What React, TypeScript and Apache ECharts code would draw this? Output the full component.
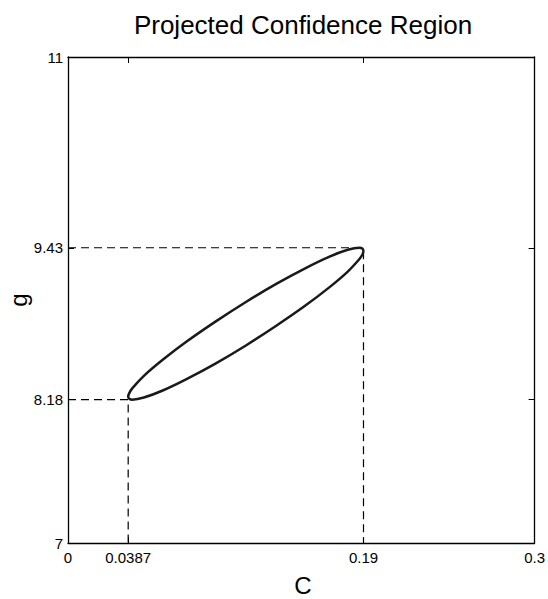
import React, { useEffect, useRef } from "react";
import * as echarts from "echarts";

// Ellipse outline (c, g pairs)
const ellipseC = [
  0.19, 0.1894, 0.1874, 0.1799, 0.1678, 0.1522, 0.1339, 0.1144, 0.0948, 0.0765,
  0.0609, 0.0488, 0.0413, 0.0394, 0.0387, 0.0394, 0.0413, 0.0488, 0.0609, 0.0765,
  0.0948, 0.1144, 0.1339, 0.1522, 0.1678, 0.1799, 0.1874, 0.1894, 0.19,
];
const ellipseG = [
  9.404, 9.376, 9.337, 9.234, 9.102, 8.95, 8.788, 8.626, 8.477, 8.351,
  8.255, 8.197, 8.18, 8.188, 8.206, 8.234, 8.273, 8.376, 8.508, 8.66,
  8.822, 8.984, 9.133, 9.259, 9.355, 9.413, 9.43, 9.422, 9.404,
];

// Projection lines (bounds of the region)
const cBounds = [0.0387, 0.19];
const gBounds = [8.18, 9.43];

const xTicks = [0, 0.0387, 0.19, 0.3];
const yTicks = [7, 8.18, 9.43, 11];
const xRange = [0, 0.3];
const yRange = [7, 11];

const titleText = "Projected Confidence Region";
const xName = "C";
const yName = "g";

const FONT = '"Liberation Sans", Arial, sans-serif';

export default function App() {
  const ref = useRef<HTMLDivElement>(null);

  useEffect(() => {
    if (!ref.current) return;
    const chart = echarts.init(ref.current, null, { renderer: "svg" });

    const ellipseData = ellipseC.map((c, i) => [c, ellipseG[i]]);
    const lowData = [
      [xRange[0], gBounds[0]],
      [cBounds[0], gBounds[0]],
      [cBounds[0], yRange[0]],
    ];
    const highData = [
      [xRange[0], gBounds[1]],
      [cBounds[1], gBounds[1]],
      [cBounds[1], yRange[0]],
    ];

    const axisLine = { show: true, onZero: false, lineStyle: { color: "#000", width: 1.3 } };
    const tickStyle = { show: true, inside: true, length: 6, lineStyle: { color: "#000", width: 1 } };

    const dashed = {
      type: "line",
      xAxisIndex: 0,
      yAxisIndex: 0,
      showSymbol: false,
      symbol: "none",
      lineStyle: { color: "#000", width: 1.2, type: [8, 5] },
      z: 2,
    };

    chart.setOption({
      animation: false,
      backgroundColor: "#fff",
      grid: { left: 68, right: 10, top: 57, bottom: 56, containLabel: false },
      xAxis: [
        {
          type: "value",
          position: "bottom",
          min: xRange[0],
          max: xRange[1],
          axisLine,
          axisTick: { ...tickStyle, customValues: xTicks },
          axisLabel: {
            show: true,
            customValues: xTicks,
            margin: 7,
            color: "#000",
            fontSize: 15,
            fontFamily: FONT,
            formatter: (v: number) => String(v),
          },
          splitLine: { show: false },
        },
        {
          type: "value",
          position: "top",
          min: xRange[0],
          max: xRange[1],
          axisLine,
          axisTick: { ...tickStyle, customValues: xTicks },
          axisLabel: { show: false },
          splitLine: { show: false },
        },
      ],
      yAxis: [
        {
          type: "value",
          position: "left",
          min: yRange[0],
          max: yRange[1],
          axisLine,
          axisTick: { ...tickStyle, customValues: yTicks },
          axisLabel: {
            show: true,
            customValues: yTicks,
            margin: 5,
            color: "#000",
            fontSize: 15,
            fontFamily: FONT,
            formatter: (v: number) => String(v),
          },
          splitLine: { show: false },
        },
        {
          type: "value",
          position: "right",
          min: yRange[0],
          max: yRange[1],
          axisLine,
          axisTick: { ...tickStyle, customValues: yTicks },
          axisLabel: { show: false },
          splitLine: { show: false },
        },
      ],
      graphic: [
        {
          type: "text",
          x: 303,
          y: 25,
          style: {
            text: titleText,
            fill: "#000",
            font: `26px ${FONT}`,
            align: "center",
            verticalAlign: "middle",
            textAlign: "center",
            textVerticalAlign: "middle",
          },
        },
        {
          type: "text",
          x: 303,
          y: 585,
          style: {
            text: xName,
            fill: "#000",
            font: `24px ${FONT}`,
            align: "center",
            verticalAlign: "middle",
            textAlign: "center",
            textVerticalAlign: "middle",
          },
        },
        {
          type: "text",
          x: 18,
          y: 300,
          rotation: Math.PI / 2,
          style: {
            text: yName,
            fill: "#000",
            font: `24px ${FONT}`,
            align: "center",
            verticalAlign: "middle",
            textAlign: "center",
            textVerticalAlign: "middle",
          },
        },
      ],
      series: [
        { ...dashed, name: "low", data: lowData },
        { ...dashed, name: "high", data: highData },
        {
          type: "line",
          name: "region",
          xAxisIndex: 0,
          yAxisIndex: 0,
          data: ellipseData,
          showSymbol: false,
          symbol: "none",
          smooth: 0.3,
          lineStyle: { color: "#1a1a1a", width: 2.5 },
          z: 3,
        },
      ],
    });

    return () => chart.dispose();
  }, []);

  return (
    <div
      ref={ref}
      style={{ position: "fixed", left: 0, top: 0, width: 548, height: 599, background: "#fff" }}
    />
  );
}
